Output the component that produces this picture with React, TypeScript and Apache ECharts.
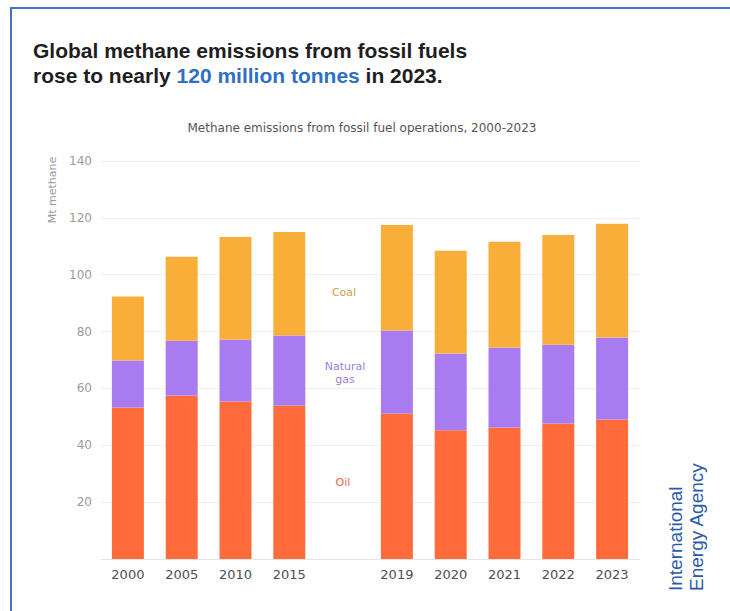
import React, { useEffect, useRef } from "react";
import * as echarts from "echarts";

const years = ["2000", "2005", "2010", "2015", "", "2019", "2020", "2021", "2022", "2023"];
const oil = [53.3, 57.5, 55.4, 54.0, null, 51.2, 45.3, 46.3, 47.7, 49.1];
const gas = [16.5, 19.3, 21.8, 24.6, null, 29.2, 27.0, 28.1, 27.7, 28.8];
const coal = [22.5, 29.5, 36.1, 36.4, null, 37.1, 36.1, 37.2, 38.6, 40.0];
const yTicks = { min: 0, max: 140, interval: 20 };

const COAL = "#F9AE3A";
const GAS = "#A97BF0";
const OIL = "#FF6B3B";

export default function App() {
  const ref = useRef<HTMLDivElement>(null);
  useEffect(() => {
    if (!ref.current) return;
    const chart = echarts.init(ref.current, null, { renderer: "svg" });
    const wide = "DejaVu Sans";
    chart.setOption({
      animation: false,
      backgroundColor: "#ffffff",
      grid: { left: 101, right: 91, top: 161, bottom: 52 },
      xAxis: {
        type: "category",
        data: years,
        axisLine: { lineStyle: { color: "#e4e4e4" } },
        axisTick: { show: false },
        axisLabel: { color: "#4a4f57", fontFamily: wide, fontSize: 13, margin: 9 },
      },
      yAxis: {
        type: "value",
        min: yTicks.min,
        max: yTicks.max,
        interval: yTicks.interval,
        axisLine: { show: false },
        axisTick: { show: false },
        splitLine: { lineStyle: { color: "#efefef" } },
        axisLabel: {
          color: "#9a9a9a",
          fontFamily: wide,
          fontSize: 12,
          margin: 9,
          formatter: (v: number) => (v === 0 ? "" : String(v)),
        },
      },
      series: [
        { name: "Oil", type: "bar", stack: "t", data: oil, barWidth: 32, itemStyle: { color: OIL } },
        { name: "Natural gas", type: "bar", stack: "t", data: gas, barWidth: 32, itemStyle: { color: GAS } },
        { name: "Coal", type: "bar", stack: "t", data: coal, barWidth: 32, itemStyle: { color: COAL } },
      ],
      graphic: [
        {
          type: "rect",
          z: -1,
          shape: { x: 11, y: 8, width: 900, height: 800 },
          style: { fill: "none", stroke: "#4472C4", lineWidth: 2 },
        },
        {
          type: "text",
          x: 33,
          y: 38,
          style: {
            text: "Global methane emissions from fossil fuels\nrose to nearly {b|120 million tonnes} in 2023.",
            fontFamily: "Liberation Sans",
            fontWeight: "bold",
            fontSize: 21,
            lineHeight: 25,
            fill: "#1e1e1e",
            rich: {
              b: { fill: "#2F6FC4", fontFamily: "Liberation Sans", fontWeight: "bold", fontSize: 21, lineHeight: 25 },
            },
          },
        },
        {
          type: "text",
          x: 362,
          y: 128,
          style: {
            text: "Methane emissions from fossil fuel operations, 2000-2023",
            fontFamily: wide,
            fontSize: 12,
            fill: "#555",
            align: "center",
            verticalAlign: "middle",
          },
        },
        {
          type: "text",
          x: 52,
          y: 190,
          rotation: Math.PI / 2,
          style: {
            text: "Mt methane",
            fontFamily: wide,
            fontSize: 11,
            fill: "#999",
            align: "center",
            verticalAlign: "middle",
          },
        },
        {
          type: "text",
          x: 344,
          y: 292,
          style: { text: "Coal", fontFamily: wide, fontSize: 11, fill: "#C9A24A", align: "center", verticalAlign: "middle" },
        },
        {
          type: "text",
          x: 345,
          y: 373,
          style: {
            text: "Natural\ngas",
            fontFamily: wide,
            fontSize: 11,
            lineHeight: 13,
            fill: "#9A7FD8",
            align: "center",
            verticalAlign: "middle",
          },
        },
        {
          type: "text",
          x: 343,
          y: 482,
          style: { text: "Oil", fontFamily: wide, fontSize: 11, fill: "#E8653F", align: "center", verticalAlign: "middle" },
        },
        {
          type: "text",
          x: 686,
          y: 591,
          rotation: Math.PI / 2,
          style: {
            text: "International\nEnergy Agency",
            fontFamily: "Liberation Sans",
            fontSize: 19,
            lineHeight: 21,
            fill: "#2C5AA8",
            align: "left",
            verticalAlign: "middle",
          },
        },
      ],
    });
    return () => chart.dispose();
  }, []);
  return <div ref={ref} style={{ position: "fixed", left: 0, top: 0, width: 730, height: 611 }} />;
}
